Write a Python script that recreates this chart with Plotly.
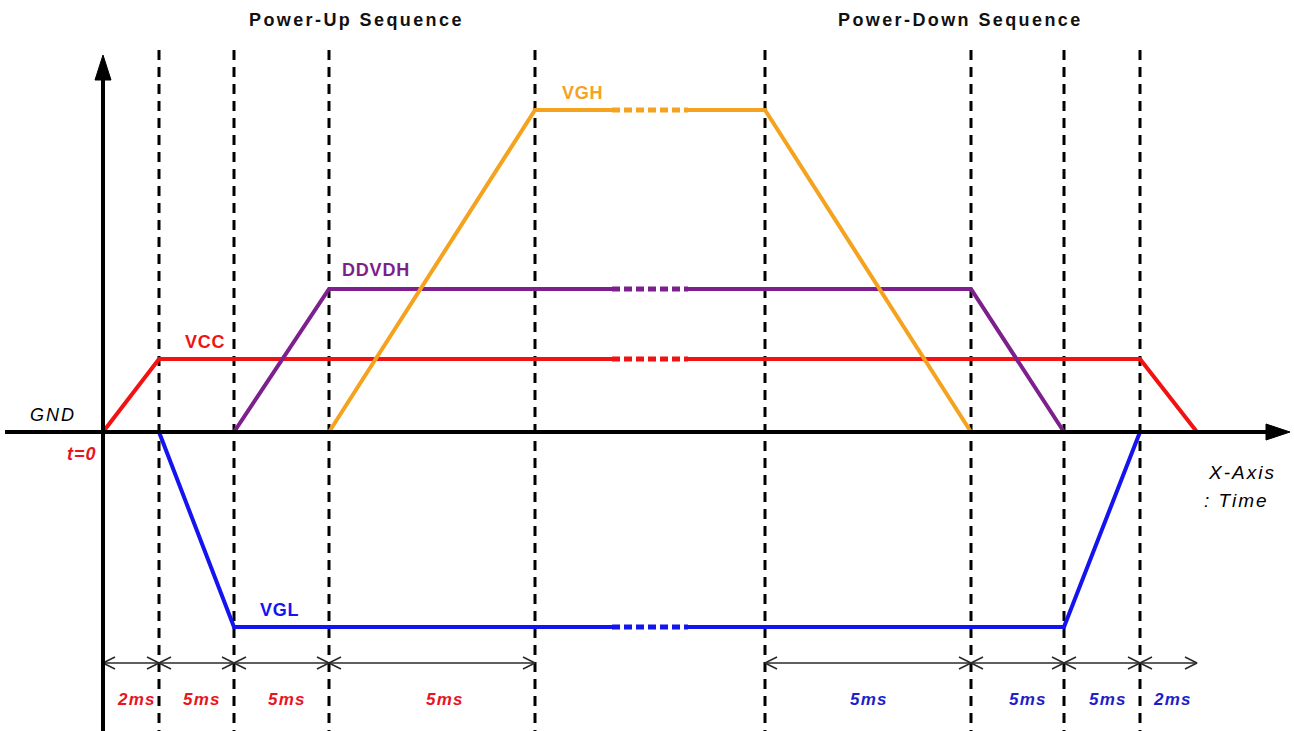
import plotly.graph_objects as go

# ---------------- data ----------------
# schematic event positions along the time axis (diagram is not to scale); t=0 at origin
up_events = [0, 56, 131, 226, 432]          # t=0, +2ms, +5ms, +5ms, +5ms
down_events = [662, 868, 961, 1037, 1094]   # +5ms, +5ms, +5ms, +2ms
up_labels = ["2ms", "5ms", "5ms", "5ms"]
down_labels = ["5ms", "5ms", "5ms", "2ms"]

# schematic voltage levels
levels = {"GND": 0, "VCC": 73, "DDVDH": 143, "VGH": 322, "VGL": -195}

signal_names = ["VCC", "DDVDH", "VGH", "VGL"]
signal_x = {
    "VCC":   [0, 56, 1037, 1094],
    "DDVDH": [131, 226, 868, 961],
    "VGH":   [226, 432, 662, 868],
    "VGL":   [56, 131, 961, 1037],
}
signal_colors = {"VCC": "#F21212", "DDVDH": "#7E1F8E", "VGH": "#F5A21E", "VGL": "#1414EE"}
gap = [509, 585]   # omitted (dotted) time span

titles = ["Power-Up Sequence", "Power-Down Sequence"]

# ---------------- figure ----------------
X0, X1 = -103, 1191
Y0, Y1 = -299, 432
fig = go.Figure()

FONT = "Liberation Sans, Arial, sans-serif"


def sp(text, ls):
    return f'<span style="letter-spacing:{ls}px">{text}</span>'


# signals: solid with dotted gap section
for name in signal_names:
    xs = signal_x[name]
    lv = levels[name]
    ys = [0, lv, lv, 0]
    col = signal_colors[name]
    fig.add_trace(go.Scatter(x=[xs[0], xs[1], gap[0]], y=[ys[0], ys[1], lv], mode="lines",
                             line=dict(color=col, width=4), hoverinfo="skip", showlegend=False))
    fig.add_trace(go.Scatter(x=[gap[0], gap[1]], y=[lv, lv], mode="lines",
                             line=dict(color=col, width=5, dash="8px,4px"), hoverinfo="skip", showlegend=False))
    fig.add_trace(go.Scatter(x=[gap[1], xs[2], xs[3]], y=[lv, ys[2], ys[3]], mode="lines",
                             line=dict(color=col, width=4), hoverinfo="skip", showlegend=False))

shapes = []
# dashed vertical event markers
for ex in up_events[1:] + down_events[:-1]:
    shapes.append(dict(type="line", xref="x", yref="y", x0=ex, x1=ex, y0=382, y1=Y0,
                       line=dict(color="black", width=3, dash="10px,7px"), layer="below"))

# axes (thick black with filled arrowheads)
shapes.append(dict(type="line", x0=X0 + 5, x1=X1 - 20, y0=0, y1=0, line=dict(color="black", width=4)))
shapes.append(dict(type="path", path=f"M {X1-28} 8 L {X1-4} 0 L {X1-28} -8 Z",
                   fillcolor="black", line=dict(color="black", width=1)))
shapes.append(dict(type="line", x0=0, x1=0, y0=Y0, y1=Y1 - 80, line=dict(color="black", width=4)))
shapes.append(dict(type="path", path=f"M -8 {Y1-80} L 0 {Y1-55} L 8 {Y1-80} Z",
                   fillcolor="black", line=dict(color="black", width=1)))

# timing arrows
ARR_Y = -231
AW, AH = 12, 6


def timing_arrows(events):
    xs, ys = [], []
    for a, b in zip(events[:-1], events[1:]):
        xs += [a, b, None]; ys += [ARR_Y, ARR_Y, None]
        xs += [a + AW, a, a + AW, None]; ys += [ARR_Y + AH, ARR_Y, ARR_Y - AH, None]
        xs += [b - AW, b, b - AW, None]; ys += [ARR_Y + AH, ARR_Y, ARR_Y - AH, None]
    fig.add_trace(go.Scatter(x=xs, y=ys, mode="lines", line=dict(color="#2a2a2a", width=1.6),
                             hoverinfo="skip", showlegend=False))


timing_arrows(up_events)
timing_arrows(down_events)

ann = []
LBL_Y = -267
up_shift = [5, 5, 5, 13]
down_shift = [1, 10, 6, 4]
for (a, b), t, d in zip(zip(up_events[:-1], up_events[1:]), up_labels, up_shift):
    ann.append(dict(x=(a + b) / 2 + d, y=LBL_Y, text=sp(f"<b><i>{t}</i></b>", 1.2), showarrow=False,
                    font=dict(color="#E8141E", size=17, family=FONT)))
for (a, b), t, d in zip(zip(down_events[:-1], down_events[1:]), down_labels, down_shift):
    ann.append(dict(x=(a + b) / 2 + d, y=LBL_Y, text=sp(f"<b><i>{t}</i></b>", 1.2), showarrow=False,
                    font=dict(color="#1E1ECC", size=17, family=FONT)))

# section titles
ann.append(dict(x=356 - 103, y=412, text=sp(f"<b>{titles[0]}</b>", 2.4), showarrow=False,
                font=dict(color="#111111", size=18, family=FONT)))
ann.append(dict(x=960 - 103, y=412, text=sp(f"<b>{titles[1]}</b>", 2.4), showarrow=False,
                font=dict(color="#111111", size=18, family=FONT)))

# signal labels
label_pos = {"VCC": (80, 90), "DDVDH": (237, 162), "VGH": (457, 339), "VGL": (155, -178)}
for name in signal_names:
    lx, ly = label_pos[name]
    ann.append(dict(x=lx, y=ly, text=sp(f"<b>{name}</b>", 0.8), showarrow=False, xanchor="left",
                    font=dict(color=signal_colors[name], size=18, family=FONT)))

ann.append(dict(x=-75, y=17, text=sp("<i>GND</i>", 2), showarrow=False, xanchor="left",
                font=dict(color="black", size=18, family=FONT)))
ann.append(dict(x=-38, y=-22, text=sp("<b><i>t=0</i></b>", 1), showarrow=False, xanchor="left",
                font=dict(color="#E8141E", size=18, family=FONT)))
ann.append(dict(x=1103, y=-40, text=sp("<i>X-Axis</i>", 2), showarrow=False, xanchor="left",
                font=dict(color="black", size=19, family=FONT)))
ann.append(dict(x=1099, y=-68, text=sp("<i>: Time</i>", 2), showarrow=False, xanchor="left",
                font=dict(color="black", size=19, family=FONT)))

fig.update_layout(
    width=1294, height=731, margin=dict(l=0, r=0, t=0, b=0),
    paper_bgcolor="white", plot_bgcolor="white",
    xaxis=dict(range=[X0, X1], visible=False, fixedrange=True),
    yaxis=dict(range=[Y0, Y1], visible=False, fixedrange=True),
    shapes=shapes, annotations=ann, showlegend=False,
)
fig.write_html("out.html", config={"displayModeBar": False},
               post_script="document.body.style.margin='0';document.body.style.overflow='hidden';")
